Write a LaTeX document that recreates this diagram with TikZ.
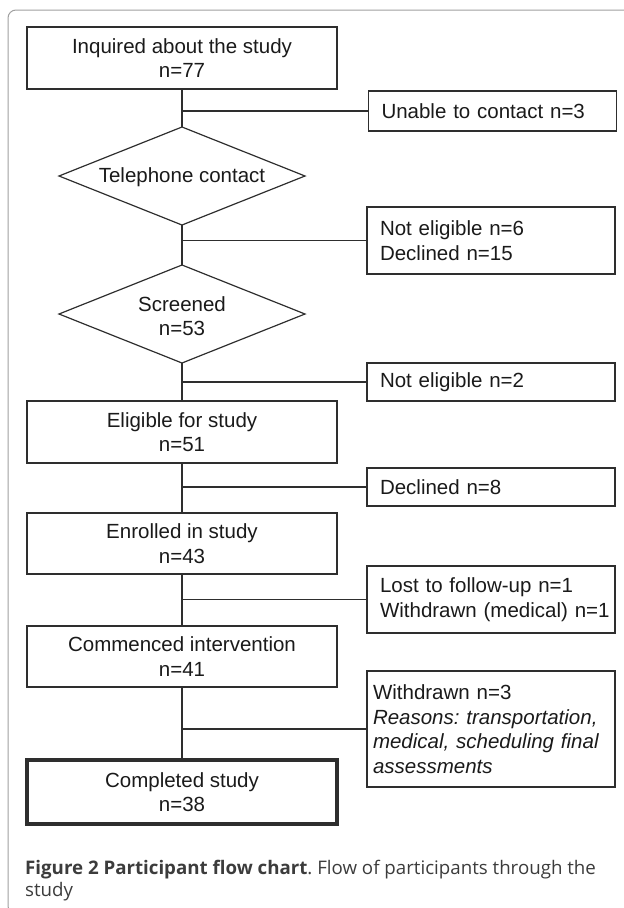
\documentclass[tikz,border=0pt]{standalone}
\usepackage{fontspec}
\setmainfont{Liberation Sans}
\newfontfamily\capfont{Open Sans}
\usetikzlibrary{shapes.geometric}
\definecolor{ink}{HTML}{1A1A1A}
\definecolor{edge}{HTML}{2E2E2E}
\definecolor{framec}{HTML}{A0A0A0}
\frenchspacing
\begin{document}
\begin{tikzpicture}[x=1pt,y=-1pt,
  every node/.style={text=ink, font=\fontsize{20.5}{24.5}\selectfont},
  lbox/.style={draw=edge, line width=1.2pt, minimum width=310pt, minimum height=62pt, inner sep=0pt, outer sep=0pt, align=center},
  rbox/.style={draw=edge, line width=1.2pt, minimum width=248pt, inner xsep=13pt, inner ysep=0pt, text width=222pt, align=left, outer sep=0pt},
  dbox/.style={draw=edge, line width=1.2pt, diamond, minimum width=246pt, minimum height=98pt, inner sep=0pt, outer sep=0pt},
  conn/.style={draw=edge, line width=1.2pt},
  captext/.style={anchor=base west, inner sep=0pt, text=ink!85, font=\capfont\fontsize{18.7}{22}\selectfont}]
\useasboundingbox (0,0) rectangle (624,908);
\begin{scope}
\clip (0,0) rectangle (624,908);
\draw[framec, line width=1pt, rounded corners=8pt] (8,10) rectangle (660,914);
\end{scope}

\node[lbox] (b1) at (182,58) {Inquired about the study\\n=77};
\node[rbox, minimum height=40pt] (r1) at (492.5,111) {Unable to contact n=3};
\node[dbox] (d1) at (182,176) {};
\node (t1) at (182,177) {Telephone contact};
\node[rbox, minimum height=67pt] (r2) at (491,240.5) {Not eligible n=6\\Declined n=15};
\node[dbox] (d2) at (182,314) {};
\node[align=center] (t2) at (182,316) {Screened\\n=53};
\node[rbox, minimum height=38pt] (r3) at (491,382) {Not eligible n=2};
\node[lbox] (b2) at (182,432) {Eligible for study\\n=51};
\node[rbox, minimum height=38pt] (r4) at (491,487) {Declined n=8};
\node[lbox, minimum height=61pt] (b3) at (182,543.5) {Enrolled in study\\n=43};
\node[rbox, minimum height=67pt] (r5) at (491,599.5) {Lost to follow-up n=1\\\makebox[222pt][l]{Withdrawn (medical) n=1}};
\node[lbox, minimum height=61pt] (b4) at (182,656.5) {Commenced intervention\\n=41};
\node[rbox, minimum height=116pt, inner xsep=6pt, text width=236pt] (r6) at (491,729) {Withdrawn n=3\\\textit{Reasons: transportation,}\\\textit{medical, scheduling final}\\\textit{assessments}};
\node[lbox, line width=4pt, minimum height=64pt] (b5) at (182,792) {Completed study\\n=38};

\draw[conn] (b1.south) -- (d1.north);
\draw[conn] (b1.south |- r1.west) -- (r1.west);
\draw[conn] (d1.south) -- (d2.north);
\draw[conn] (d1.south |- r2.west) -- (r2.west);
\draw[conn] (d2.south) -- (b2.north);
\draw[conn] (d2.south |- r3.west) -- (r3.west);
\draw[conn] (b2.south) -- (b3.north);
\draw[conn] (b2.south |- r4.west) -- (r4.west);
\draw[conn] (b3.south) -- (b4.north);
\draw[conn] (b3.south |- r5.west) -- (r5.west);
\draw[conn] (b4.south) -- (b5.north);
\draw[conn] (b4.south |- r6.west) -- (r6.west);

\node[captext] (cap1) at (25,874) {\textbf{Figure 2 Participant flow chart}. Flow of participants through the};
\node[captext] (cap2) at (25,896) {study};
\end{tikzpicture}
\end{document}
